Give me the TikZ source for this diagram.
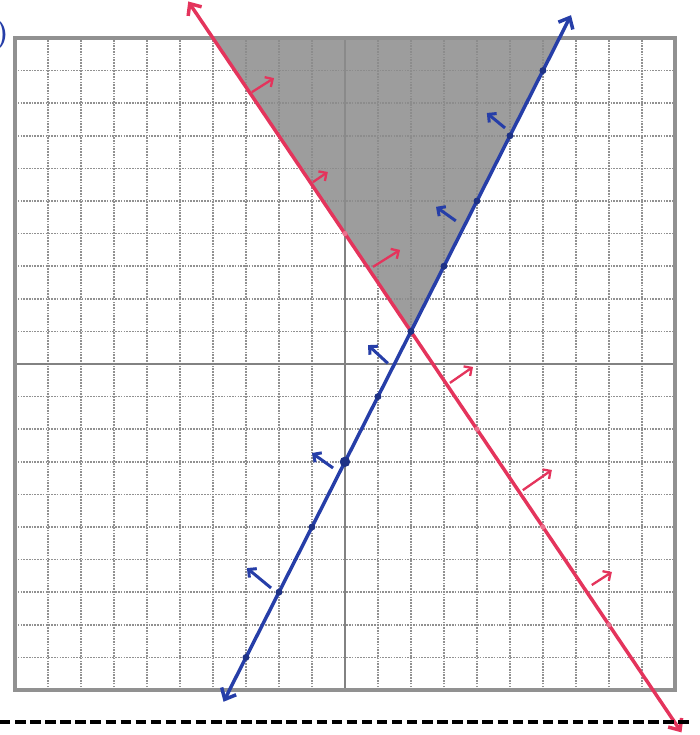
\documentclass[tikz,border=0pt]{standalone}
\usepackage{xcolor}
\definecolor{penblue}{RGB}{38, 62, 168}
\definecolor{penred}{RGB}{228, 52, 92}
\definecolor{gridgray}{RGB}{145, 145, 145}
\definecolor{pencil}{RGB}{140, 140, 140}
\usetikzlibrary{arrows.meta, calc}

\begin{document}
\begin{tikzpicture}[x=1cm, y=0.988cm,
        gridline/.style={draw=gridgray, densely dotted, line width=1.4pt},
        frameline/.style={draw=gridgray, line width=3.2pt},
        axisline/.style={draw=gridgray!90!black, line width=2.2pt},
        blueline/.style={draw=penblue, line width=3pt, {Straight Barb[length=8pt,width=14pt]}-{Straight Barb[length=8pt,width=14pt]}},
        redline/.style={draw=penred, line width=3pt, {Straight Barb[length=8pt,width=14pt]}-{Straight Barb[length=8pt,width=14pt]}},
        bluehint/.style={draw=penblue, line width=2.6pt, -{Straight Barb[length=5pt,width=10pt]}},
        redhint/.style={draw=penred, line width=2pt, -{Straight Barb[length=5pt,width=10pt]}},
        bluedot/.style={circle, fill=penblue!80!black, inner sep=0pt, minimum size=6pt},
        reddot/.style={circle, fill=penred!70, inner sep=0pt, minimum size=4.5pt},
        cutline/.style={draw=black, line width=3pt, dash pattern=on 9pt off 4pt}]

    \useasboundingbox (-10.4545,-11.38) rectangle (10.7576,11.1656);

    % grid
    \foreach \k in {-9,...,9} {
        \draw [gridline] (\k,-10) -- (\k,10);
        \draw [gridline] (-10,\k) -- (10,\k);
    }
    \draw [axisline] (0,-10) -- (0,10);
    \draw [axisline] (-10,0) -- (10,0);

    % shaded region
    \coordinate (redtopedge) at (-4,10);
    \coordinate (bluetopedge) at (6.5,10);
    \coordinate (meet) at (2,1);
    \fill [pencil, opacity=0.85] (redtopedge) -- (bluetopedge) -- (meet) -- cycle;

    \draw [frameline] (-10,-10) rectangle (10,10);

    % boundary lines
    \coordinate (redtop) at (-4.75,11.12);
    \coordinate (redbot) at (10.2,-11.3);
    \coordinate (bluebot) at (-3.68,-10.36);
    \coordinate (bluetop) at (6.85,10.7);
    \draw [redline] (redtop) -- (redbot);
    \draw [blueline] (bluebot) -- (bluetop);

    \foreach \px/\py in {0/4, 4/-2, 6/-5, 8/-8}
        \node [reddot] at (\px,\py) {};
    \foreach \px/\py in {-3/-9, -2/-7, -1/-5, 1/-1, 2/1, 3/3, 4/5, 5/7, 6/9}
        \node [bluedot] at (\px,\py) {};
    \node [bluedot, minimum size=9pt] (yint) at (0,-3) {};

    % side arrows
    \foreach \ax/\ay/\bx/\by in {4.85/7.24/4.30/7.70, 3.36/4.39/2.76/4.82, 1.30/0.02/0.70/0.58,
            -0.36/-3.19/-1.00/-2.73, -2.24/-6.87/-2.97/-6.26}
        \draw [bluehint] (\ax,\ay) -- (\bx,\by);
    \foreach \ax/\ay/\bx/\by in {-2.82/8.34/-2.15/8.77, -0.97/5.58/-0.52/5.89, 0.85/2.98/1.67/3.50,
            3.18/-0.58/3.88/-0.09, 5.39/-3.87/6.27/-3.25, 7.48/-6.78/8.09/-6.38}
        \draw [redhint] (\ax,\ay) -- (\bx,\by);

    \node [text=penblue, font=\fontsize{26}{26}\bfseries\selectfont, anchor=east, inner sep=0pt] (tag) at (-10.18,10.1) {)};

    \coordinate (cutleft) at (-10.4545,-10.98);
    \coordinate (cutright) at (10.45,-10.98);
    \draw [cutline] (cutleft) -- (cutright);
\end{tikzpicture}
\end{document}
